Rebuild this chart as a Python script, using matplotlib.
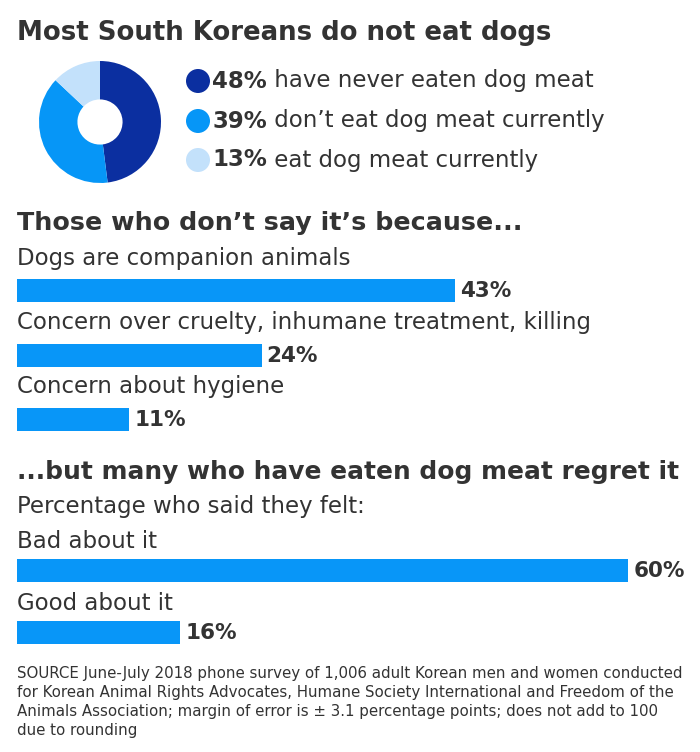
import matplotlib.pyplot as plt
from matplotlib.patches import Ellipse

# ---- data ----
donut_labels = ["have never eaten dog meat", "don\u2019t eat dog meat currently", "eat dog meat currently"]
donut_values = [48, 39, 13]
donut_colors = ["#0b2fa0", "#0696f7", "#c3e1fb"]

reason_labels = ["Dogs are companion animals",
                 "Concern over cruelty, inhumane treatment, killing",
                 "Concern about hygiene"]
reason_values = [43, 24, 11]

feel_labels = ["Bad about it", "Good about it"]
feel_values = [60, 16]

title = "Most South Koreans do not eat dogs"
head2 = "Those who don\u2019t say it\u2019s because..."
head3 = "...but many who have eaten dog meat regret it"
sub3 = "Percentage who said they felt:"
source = ("SOURCE June-July 2018 phone survey of 1,006 adult Korean men and women conducted\n"
          "for Korean Animal Rights Advocates, Humane Society International and Freedom of the\n"
          "Animals Association; margin of error is \u00b1 3.1 percentage points; does not add to 100\n"
          "due to rounding")

W, H = 700, 752
BAR = "#0896f8"
TXT = "#333333"
plt.rcParams["font.family"] = ["DejaVu Sans"]

fig = plt.figure(figsize=(W / 100, H / 100), dpi=100)
fig.patch.set_facecolor("white")

# main axes: x in percent (1% ~ 10.19 px, 0 at x=17px), y in pixels from top
px_per_pct = 10.19
x0 = 17
ax = fig.add_axes([0, 0, 1, 1])
ax.set_xlim(-x0 / px_per_pct, (W - x0) / px_per_pct)
ax.set_ylim(H, 0)
ax.axis("off")


def px(x):
    return (x - x0) / px_per_pct


BODY = 16.5

# title and headings
ax.text(px(17), 40, title, fontsize=18.7, fontweight="bold", color=TXT, va="baseline")
ax.text(px(17), 230, head2, fontsize=18.25, fontweight="bold", color=TXT, va="baseline")
ax.text(px(17), 479, head3, fontsize=17.9, fontweight="bold", color=TXT, va="baseline")
ax.text(px(17), 507, sub3, fontsize=BODY, color=TXT, va="center")

# donut legend
leg_y = [81, 121, 160]
for yy, v, lab, c in zip(leg_y, donut_values, donut_labels, donut_colors):
    ax.add_patch(Ellipse((px(198), yy), 24 / px_per_pct, 24, color=c, lw=0))
    t = ax.text(px(212), yy, f"{v}%", fontsize=BODY, fontweight="bold", color=TXT, va="center")
    ax.annotate(" " + lab, xycoords=t, xy=(1, 0.5), va="center", fontsize=BODY, color=TXT)

# bars: reasons
reason_y = [290, 355, 419]
ax.barh(reason_y, reason_values, height=23, left=0, color=BAR)
for yy, v, lab in zip(reason_y, reason_values, reason_labels):
    ax.text(px(17), yy - 32, lab, fontsize=BODY, color=TXT, va="center")
    ax.text(v + 0.5, yy + 1, f"{v}%", fontsize=15.5, fontweight="bold", color=TXT, va="center")

# bars: feelings
feel_y = [570, 632]
ax.barh(feel_y, feel_values, height=23, left=0, color=BAR)
for yy, v, lab in zip(feel_y, feel_values, feel_labels):
    ax.text(px(17), yy - 29, lab, fontsize=BODY, color=TXT, va="center")
    ax.text(v + 0.5, yy + 1, f"{v}%", fontsize=15.5, fontweight="bold", color=TXT, va="center")

ax.text(px(17), 666, source, fontsize=10.8, color=TXT, va="top", linespacing=1.33)

# donut
cx, cy, r = 100, 122, 61
pax = fig.add_axes([(cx - r) / W, (H - cy - r) / H, 2 * r / W, 2 * r / H])
pax.pie(donut_values, colors=donut_colors, startangle=90, counterclock=False,
        radius=1, wedgeprops=dict(width=0.63, linewidth=0))
pax.set_xlim(-1, 1)
pax.set_ylim(-1, 1)
pax.set_aspect("equal")
pax.axis("off")

fig.savefig("out.png", dpi=100)
